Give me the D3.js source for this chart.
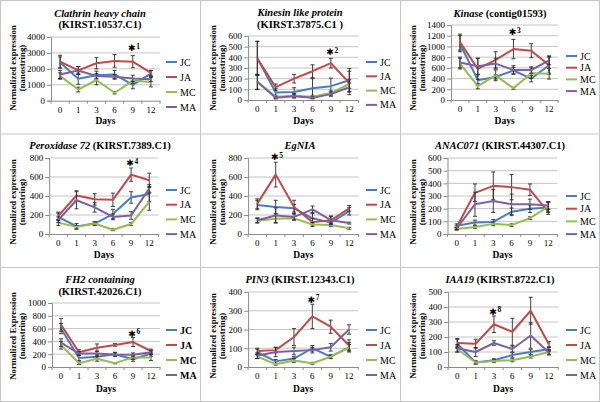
<!DOCTYPE html>
<html><head><meta charset="utf-8">
<script src="https://cdn.jsdelivr.net/npm/d3@7"></script>
<style>body{margin:0;background:#fff}svg{display:block}
svg text{font-family:"Liberation Serif","Times New Roman",serif;}
svg text.star{font-family:"DejaVu Sans",sans-serif;}
</style>
</head><body>
<svg id="c" width="600" height="402"></svg>
<script>
// ---------- DATA ----------
const days = ["0","1","3","6","9","12"];
const seriesNames = ["JC","JA","MC","MA"];
const seriesColors = ["#4A7EBB","#BE4B48","#98B954","#7D60A0"];

// Clathrin heavy chain
const clathrinJC = [2400,1380,1600,1650,1000,1700];
const clathrinJA = [2450,1900,2350,2500,2450,1750];
const clathrinMC = [1550,700,1300,500,1250,1170];
const clathrinMA = [1650,1900,1550,1500,1400,1350];
const clathrinErr = [[350,350,250,250,250,200],[400,250,350,400,380,150],[200,150,300,80,150,300],[250,250,150,150,200,150]];
// Kinesin like protein
const kinesinJC = [390,70,75,110,130,185];
const kinesinJA = [390,120,200,270,345,160];
const kinesinMC = [170,30,40,30,65,150];
const kinesinMA = [170,20,35,20,55,120];
const kinesinErr = [[160,40,40,90,75,110],[160,30,40,60,45,110],[70,15,20,15,20,40],[70,10,15,10,20,40]];
// Kinase
const kinaseJC = [1050,370,430,550,400,650];
const kinaseJA = [1080,580,750,950,920,650];
const kinaseMC = [680,260,460,220,500,490];
const kinaseMA = [700,630,680,560,560,740];
const kinaseErr = [[150,100,40,60,60,150],[150,200,150,180,130,170],[100,50,100,20,100,100],[100,150,100,80,60,80]];
// Peroxidase 72
const peroxJC = [180,80,110,210,385,420];
const peroxJA = [190,405,365,360,625,565];
const peroxMC = [120,75,110,45,105,340];
const peroxMA = [150,355,280,180,195,480];
const peroxErr = [[40,30,20,50,60,80],[40,50,60,70,70,75],[30,15,15,10,15,90],[30,90,50,30,40,40]];
// EgNIA
const egniaJC = [305,285,270,165,120,240];
const egniaJA = [320,625,285,125,145,270];
const egniaMC = [140,160,165,100,95,60];
const egniaMA = [145,195,180,260,145,115];
const egniaErr = [[50,70,40,50,30,40],[50,130,70,40,40,30],[25,40,20,20,15,10],[25,80,30,35,45,10]];
// ANAC071
const anacJC = [65,90,95,175,200,210];
const anacJA = [55,325,380,370,350,175];
const anacMC = [40,55,80,70,125,215];
const anacMA = [45,235,260,235,235,225];
const anacErr = [[15,20,20,30,30,40],[15,70,110,100,45,20],[10,10,15,10,10,40],[10,95,90,80,40,30]];
// FH2 containing
const fh2JC = [600,140,160,200,120,210];
const fh2JA = [660,230,300,345,390,250];
const fh2MC = [340,60,130,60,150,150];
const fh2MA = [380,210,210,195,190,230];
const fh2Err = [[80,40,40,30,30,40],[100,40,60,20,70,30],[60,20,40,10,30,50],[60,30,40,30,30,30]];
// PIN3
const pin3JC = [80,30,45,100,55,105];
const pin3JA = [85,90,160,270,215,115];
const pin3MC = [55,15,35,20,55,105];
const pin3MA = [60,80,85,90,105,200];
const pin3Err = [[15,10,10,15,10,15],[15,15,45,65,35,30],[10,5,10,5,8,25],[15,25,20,15,20,25]];
// IAA19
const iaaJC = [155,30,45,80,100,120];
const iaaJA = [160,155,285,235,375,150];
const iaaMC = [120,30,40,45,70,100];
const iaaMA = [125,100,160,120,210,95];
const iaaErr = [[30,10,10,15,15,15],[30,30,55,90,90,20],[20,10,8,10,10,15],[25,30,15,20,85,15]];

// y tick labels per panel
const clathrinTicks = [0,1000,2000,3000,4000];
const kinesinTicks = [0,100,200,300,400,500,600];
const kinaseTicks = [0,200,400,600,800,1000,1200,1400];
const peroxTicks = [0,200,400,600,800];
const egniaTicks = [0,200,400,600,800];
const anacTicks = [0,100,200,300,400,500,600];
const fh2Ticks = [0,200,400,600,800,1000];
const pin3Ticks = [0,100,200,300,400];
const iaaTicks = [0,100,200,300,400,500];

// significance marks: [day, value, label]
const clathrinStar = ["9",3300,"1"];
const kinesinStar = ["9",447,"2"];
const kinaseStar = ["6",1264,"3"];
const peroxStar = ["9",744,"4"];
const egniaStar = ["1",807,"5"];
const fh2Star = ["9",520,"6"];
const pin3Star = ["6",359,"7"];
const iaaStar = ["3",371,"8"];

// ---------- LAYOUT ----------
const panels = [
 {col:0,row:0,title:[[["Clathrin heavy chain",1]],[["(KIRST.10537.C1)",0]]],titleY:[13,24.5],
  series:[clathrinJC,clathrinJA,clathrinMC,clathrinMA],err:clathrinErr,ticks:clathrinTicks,star:clathrinStar,
  L:51,R:160,T:37,B:100.7,legY:62,legStep:15,ylab:"Normalized expression",legBold:false},
 {col:1,row:0,title:[[["Kinesin like protein",1]],[["(KIRST.37875.C1 )",0]]],titleY:[12,24],
  series:[kinesinJC,kinesinJA,kinesinMC,kinesinMA],err:kinesinErr,ticks:kinesinTicks,star:kinesinStar,
  L:48.1,R:158.5,T:36,B:100,legY:62,legStep:14.3,ylab:"Normalized expression",legBold:false},
 {col:2,row:0,title:[[["Kinase",1],[" (contig01593)",0]]],titleY:[13],
  series:[kinaseJC,kinaseJA,kinaseMC,kinaseMA],err:kinaseErr,ticks:kinaseTicks,star:kinaseStar,
  L:51.1,R:158,T:25,B:100,legY:56,legStep:11.7,ylab:"Normalized expression",legBold:false},
 {col:0,row:1,title:[[["Peroxidase 72",1],[" (KIRST.7389.C1)",0]]],titleY:[11.7],
  series:[peroxJC,peroxJA,peroxMC,peroxMA],err:peroxErr,ticks:peroxTicks,star:peroxStar,
  L:49.2,R:158.4,T:24,B:100,legY:56,legStep:14.7,ylab:"Normalized expression",legBold:false},
 {col:1,row:1,title:[[["EgNIA",1]]],titleY:[11.7],
  series:[egniaJC,egniaJA,egniaMC,egniaMA],err:egniaErr,ticks:egniaTicks,star:egniaStar,
  L:48.1,R:158.5,T:24,B:100,legY:56,legStep:14.7,ylab:"Normalized expression",legBold:false},
 {col:2,row:1,title:[[["ANAC071",1],[" (KIRST.44307.C1)",0]]],titleY:[11.7],
  series:[anacJC,anacJA,anacMC,anacMA],err:anacErr,ticks:anacTicks,star:null,
  L:47.5,R:157.4,T:24,B:100,legY:62,legStep:12.7,ylab:"Normalized expression",legBold:false},
 {col:0,row:2,title:[[["FH2 containing",1]],[["(KIRST.42026.C1)",0]]],titleY:[11,23.3],
  series:[fh2JC,fh2JA,fh2MC,fh2MA],err:fh2Err,ticks:fh2Ticks,star:fh2Star,
  L:52,R:160,T:35,B:99,legY:62,legStep:15,ylab:"Normalized Expression",legBold:true},
 {col:1,row:2,title:[[["PIN3",1],[" (KIRST.12343.C1)",0]]],titleY:[11.7],
  series:[pin3JC,pin3JA,pin3MC,pin3MA],err:pin3Err,ticks:pin3Ticks,star:pin3Star,
  L:48.1,R:158.2,T:24,B:99,legY:62,legStep:15,ylab:"Normalized expression",legBold:false},
 {col:2,row:2,title:[[["IAA19",1],[" (KIRST.8722.C1)",0]]],titleY:[11.7],
  series:[iaaJC,iaaJA,iaaMC,iaaMA],err:iaaErr,ticks:iaaTicks,star:iaaStar,
  L:48.1,R:158.2,T:24,B:99,legY:62,legStep:15,ylab:"Normalized expression",legBold:false}
];

const svg = d3.select("#c");
svg.append("rect").attr("x",0).attr("y",0).attr("width",600).attr("height",402).attr("fill","#fff");

panels.forEach(p => {
  const g = svg.append("g").attr("transform",`translate(${p.col*200},${p.row*134})`);
  const x = d3.scaleBand().domain(days).range([p.L,p.R]).padding(0);
  const cx = d => x(d) + x.bandwidth()/2;
  const y = d3.scaleLinear().domain([0,d3.max(p.ticks)]).range([p.B,p.T]);

  // title
  p.title.forEach((line,i) => {
    const t = g.append("text").attr("x",100).attr("y",p.titleY[i]).attr("dy","0.35em")
      .attr("text-anchor","middle").style("font-size","10.5px").style("font-weight","bold");
    line.forEach(seg => t.append("tspan").text(seg[0]).style("font-style",seg[1]?"italic":"normal"));
  });

  // gridlines
  g.append("g").selectAll("line").data(p.ticks.filter(t=>t>0)).join("line")
    .attr("x1",p.L).attr("x2",p.R).attr("y1",d=>y(d)).attr("y2",d=>y(d))
    .attr("stroke","#c4c4c4").attr("stroke-width",1);

  // y axis
  const ya = g.append("g").attr("transform",`translate(${p.L},0)`)
    .call(d3.axisLeft(y).tickValues(p.ticks).tickSize(4).tickPadding(2).tickFormat(d3.format("d")));
  ya.attr("font-family",null).attr("font-size",null);
  ya.select(".domain").attr("stroke","#8c8c8c");
  ya.selectAll(".tick line").attr("stroke","#8c8c8c");
  ya.selectAll("text").style("font-size","9px").attr("fill","#000");

  // x axis
  const xa = g.append("g").attr("transform",`translate(0,${p.B})`)
    .call(d3.axisBottom(x).tickSize(0).tickPadding(6));
  xa.attr("font-family",null).attr("font-size",null);
  xa.select(".domain").attr("stroke","#8c8c8c");
  xa.selectAll("text").style("font-size","9px").attr("fill","#000");
  g.append("g").selectAll("line").data(days.concat(["end"])).join("line")
    .attr("x1",d=>d==="end"?p.R:x(d)).attr("x2",d=>d==="end"?p.R:x(d))
    .attr("y1",p.B).attr("y2",p.B+3).attr("stroke","#8c8c8c");

  // axis titles
  g.append("text").attr("x",(p.L+p.R)/2).attr("y",121).attr("dy","0.35em").attr("text-anchor","middle")
    .style("font-size","9.5px").style("font-weight","bold").text("Days");
  [[p.ylab,13],["(nanostring)",22]].forEach(([s,xx]) => {
    g.append("text").attr("transform",`translate(${xx},68) rotate(-90)`).attr("dy","0.35em")
      .attr("text-anchor","middle").style("font-size","8.8px").style("font-weight","bold").text(s);
  });

  // series
  const line = d3.line().x((d,i)=>cx(days[i])).y(d=>y(d));
  p.series.forEach((vals,si) => {
    const eg = g.append("g");
    vals.forEach((v,i) => {
      const e = p.err[si][i];
      const xx = cx(days[i]);
      eg.append("line").attr("x1",xx).attr("x2",xx).attr("y1",y(v+e)).attr("y2",y(Math.max(0,v-e)))
        .attr("stroke","#2a2a2a").attr("stroke-width",0.9);
      [v+e, Math.max(0,v-e)].forEach(yy => eg.append("line").attr("x1",xx-2).attr("x2",xx+2)
        .attr("y1",y(yy)).attr("y2",y(yy)).attr("stroke","#2a2a2a").attr("stroke-width",0.9));
    });
    g.append("path").datum(vals).attr("d",line).attr("fill","none")
      .attr("stroke",seriesColors[si]).attr("stroke-width",2).attr("stroke-linejoin","round");
  });

  // star annotation
  if (p.star) {
    const sx = cx(p.star[0]), sy = y(p.star[1]);
    g.append("text").attr("class","star").attr("x",sx-1).attr("y",sy).attr("dy","0.35em").attr("text-anchor","middle")
      .style("font-size","9px").style("font-weight","bold").text("\u2731");
    g.append("text").attr("x",sx+3.5).attr("y",sy+0.5).style("font-size","7.5px")
      .style("font-weight","bold").text(p.star[2]);
  }

  // legend
  seriesNames.forEach((n,si) => {
    const ly = p.legY + si*p.legStep;
    g.append("line").attr("x1",166).attr("x2",177).attr("y1",ly).attr("y2",ly)
      .attr("stroke",seriesColors[si]).attr("stroke-width",2);
    g.append("text").attr("x",180).attr("y",ly).attr("dy","0.35em")
      .style("font-size","10px").style("font-weight",p.legBold?"bold":"normal").text(n);
  });
});

// panel borders
const bc = "#c6c6c6";
[0.5,200.5,400.5,599.5].forEach(xx => svg.append("line").attr("x1",xx).attr("x2",xx).attr("y1",0).attr("y2",402).attr("stroke",bc));
[0.5,134,267.5,401.5].forEach(yy => svg.append("line").attr("x1",0).attr("x2",600).attr("y1",yy).attr("y2",yy).attr("stroke",bc));
</script>
</body></html>
